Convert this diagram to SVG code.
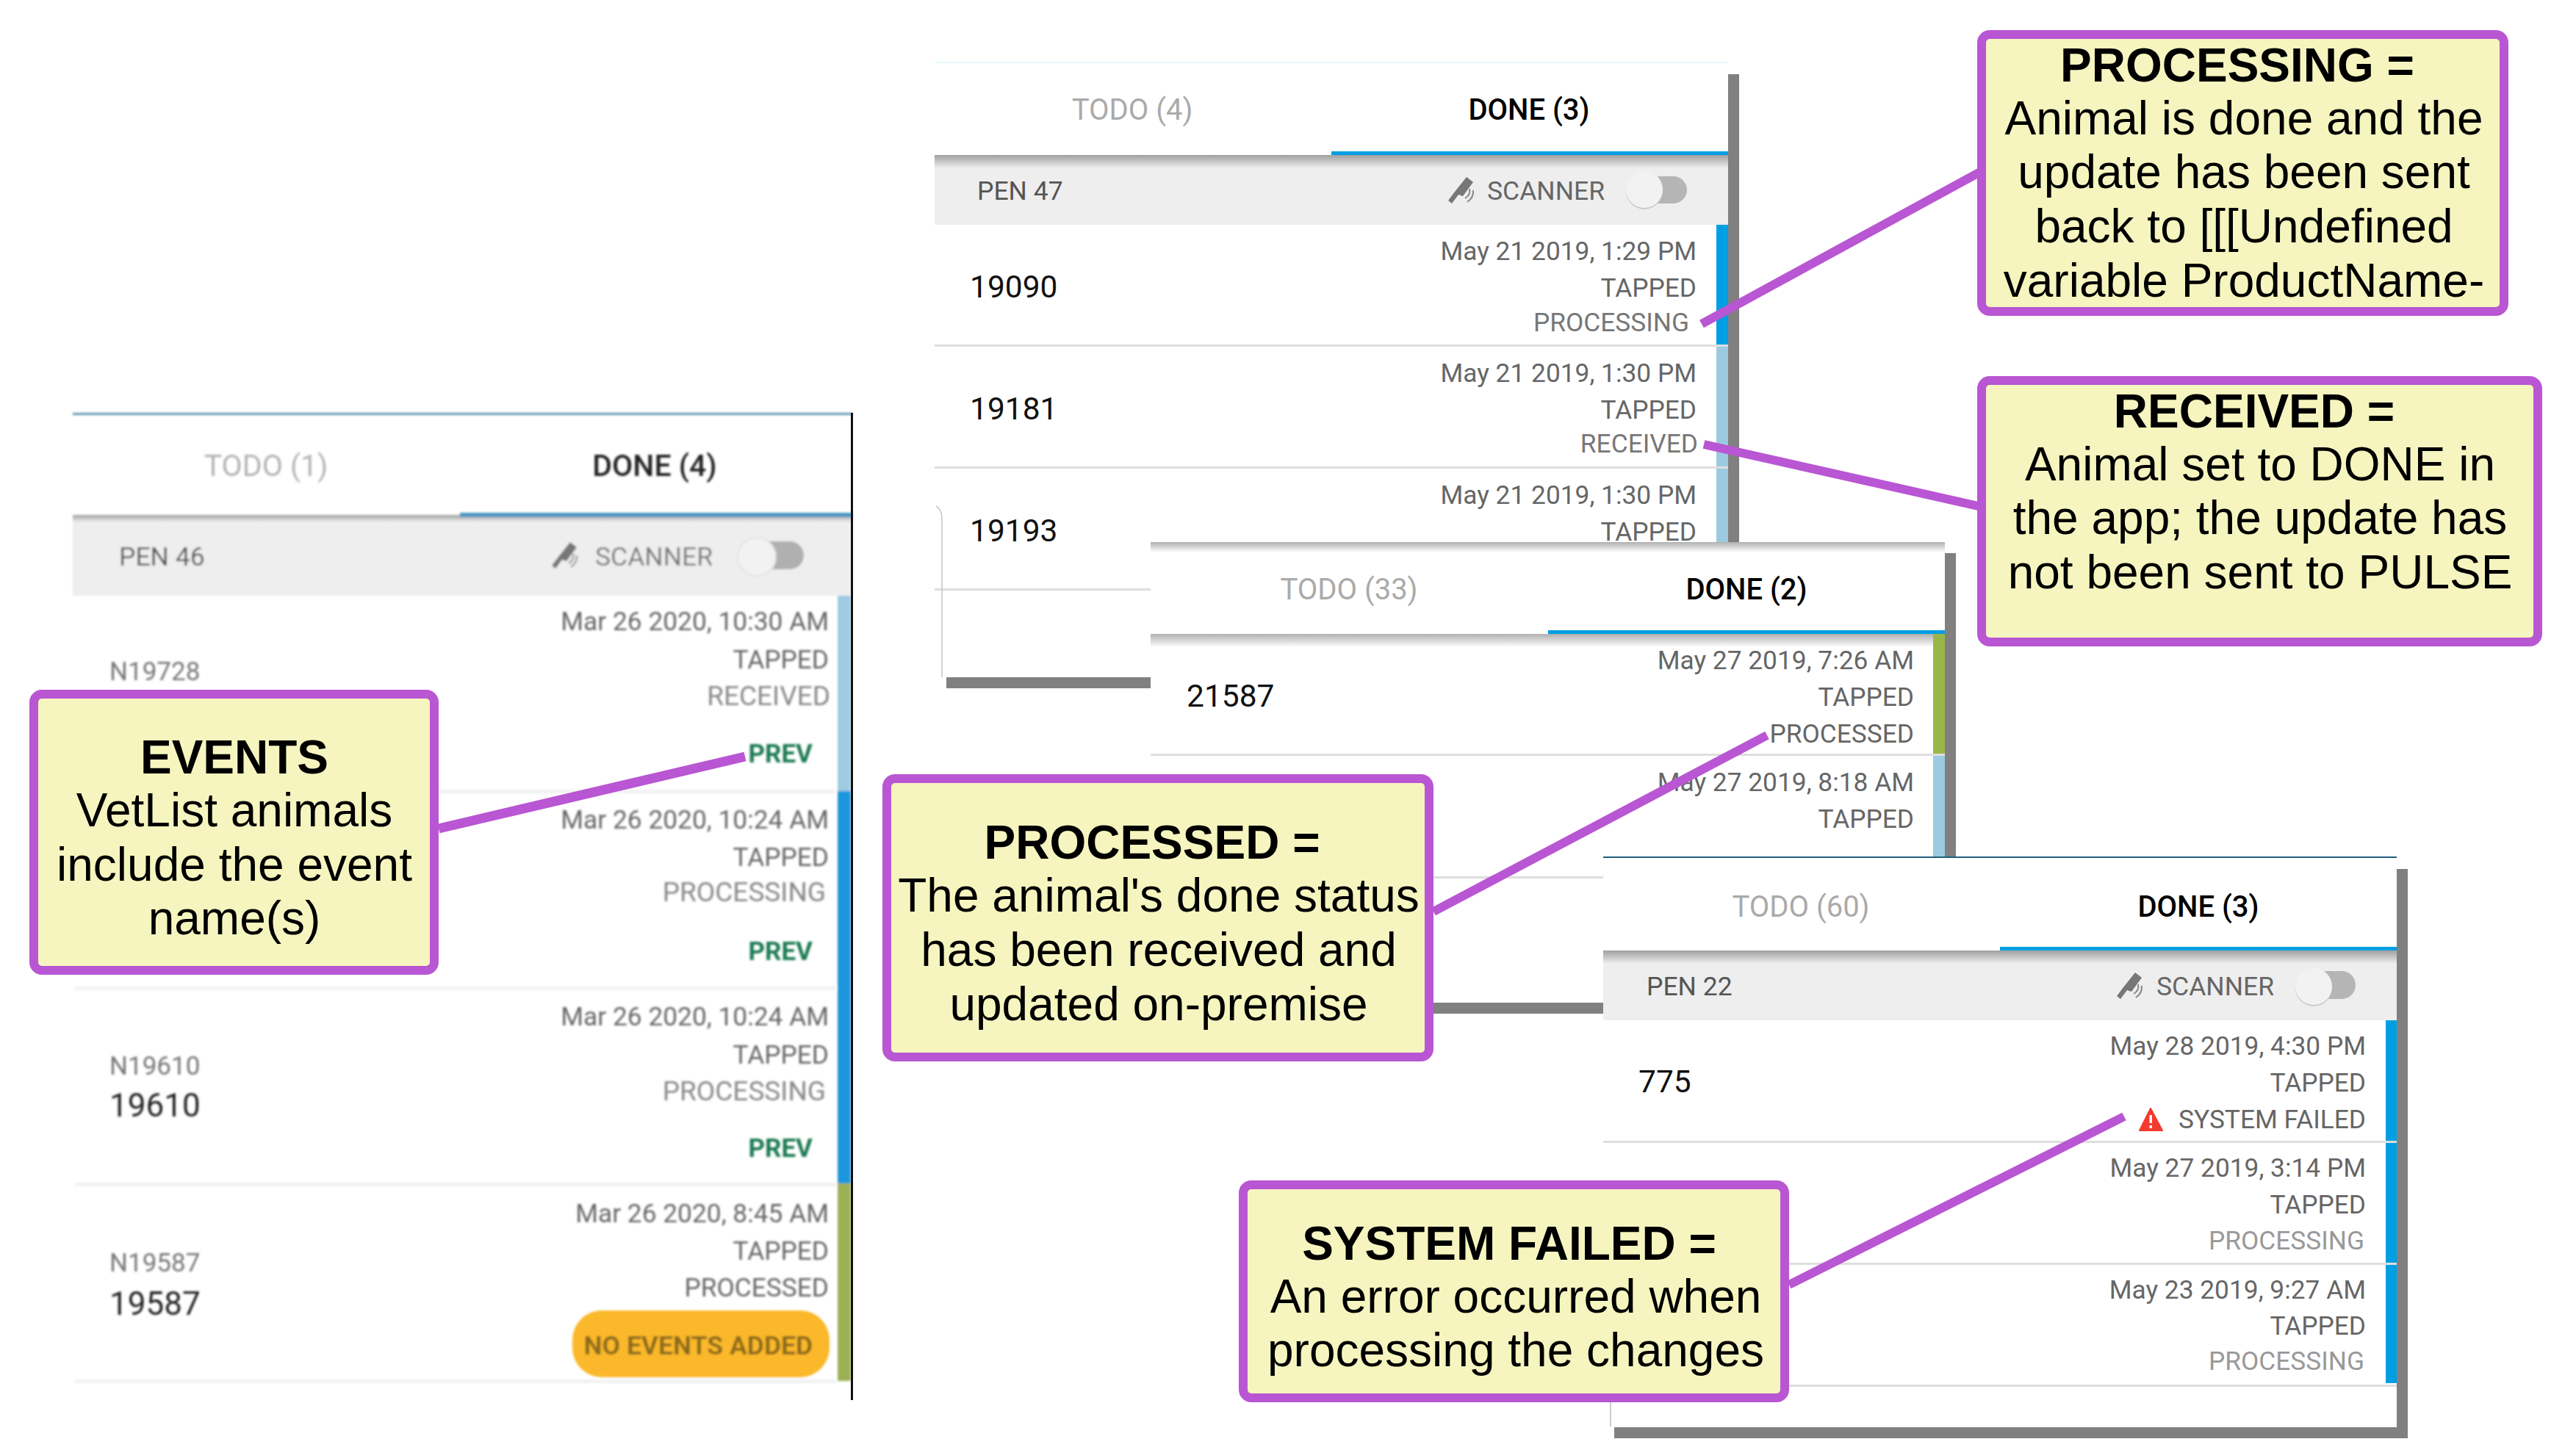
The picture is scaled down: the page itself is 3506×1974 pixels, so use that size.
<svg xmlns="http://www.w3.org/2000/svg" xmlns:xlink="http://www.w3.org/1999/xlink" width="3506" height="1974" viewBox="0 0 3506 1974">
<style>
text{font-family:Roboto,"Liberation Sans",sans-serif}
.tab{font-size:40px;fill:#aaaaaa;text-anchor:middle}
.tabon{font-size:40px;fill:#000;font-weight:500;text-anchor:middle}
.pen{font-size:35.5px;fill:#555}
.id{font-size:42.5px;fill:#111}
.r{font-size:35.3px;fill:#666;text-anchor:end}
.s{font-size:35.3px;fill:#777;text-anchor:end}
.s1{font-size:37px;fill:#888;text-anchor:end}
.n{font-size:35px;fill:#777}
.prev{font-size:35px;fill:#1f7a52;font-weight:700;text-anchor:end}
.sep{fill:#dedede}
.bar{fill:#808080}
.blue{fill:#009fe3}
.lblue{fill:#9ccae0}
.green{fill:#99b748}
.box{fill:#f6f5bf;stroke:#b956d3;stroke-width:12}
.ct{font-family:"Liberation Sans",Arial,sans-serif;font-size:64px;fill:#000;text-anchor:middle}
.ct.b{font-weight:700}
.conn{stroke:#b956d3;stroke-width:12;fill:none}
</style>
<defs>
<linearGradient id="shade" x1="0" y1="0" x2="0" y2="1"><stop offset="0" stop-color="#a0a0a0"/><stop offset="1" stop-color="#eeeeee"/></linearGradient>
<linearGradient id="shadeW" x1="0" y1="0" x2="0" y2="1"><stop offset="0" stop-color="#b0b0b0"/><stop offset="1" stop-color="#ffffff"/></linearGradient>
<filter id="soft" x="-2%" y="-2%" width="104%" height="104%"><feGaussianBlur stdDeviation="1.5"/></filter>
<g id="scan">
<path d="M26 1 L35 8 L21 27 L15 25 L6 37 L1 33 L10 21 L14 16 Z" fill="#777"/>
<path d="M30 17 Q32 25 24 30 M35 19 Q36 29 27 35" stroke="#888" stroke-width="2" fill="none"/>
</g>
</defs>
<rect width="3506" height="1974" fill="#ffffff"/>

<g id="panel-pen-46">
<g filter="url(#soft)">
<rect x="99" y="562" width="1061" height="3" fill="#6497b1"/>
<rect x="99" y="701" width="1061" height="110" fill="#eeeeee"/>
<rect x="99" y="701" width="1061" height="10" fill="url(#shade)"/>
<rect x="626" y="698" width="534" height="6" fill="#4b97c5"/>
<text class="tab" x="362" y="648" style="font-size:41px;fill:#b3b3b3">TODO (1)</text>
<text class="tabon" x="891" y="648" style="font-size:41px;fill:#222">DONE (4)</text>
<text class="pen" x="162" y="770">PEN 46</text>
<text class="pen" x="810" y="770" style="fill:#777">SCANNER</text>
<use xlink:href="#scan" transform="translate(750 737)"/>
<rect x="1030" y="737" width="64" height="38" rx="19" fill="#b0b0b0"/>
<circle cx="1030" cy="758" r="26" fill="#f2f2f2" stroke="#e2e2e2" stroke-width="2"/>
<rect x="1140" y="811" width="18" height="266" fill="#9ccbe2"/>
<rect x="1140" y="1077" width="18" height="534" fill="#1a96dc"/>
<rect x="1140" y="1611" width="18" height="269" fill="#9bb054"/>
<rect x="102" y="1075" width="1036" height="5" fill="#f2f2f2"/>
<rect x="102" y="1343" width="1036" height="5" fill="#f2f2f2"/>
<rect x="102" y="1610" width="1036" height="5" fill="#f2f2f2"/>
<rect x="102" y="1878" width="1036" height="5" fill="#f2f2f2"/>
<text class="r" x="1128" y="858">Mar 26 2020, 10:30 AM</text>
<text class="r" x="1128" y="910">TAPPED</text>
<text class="s1" x="1130" y="960">RECEIVED</text>
<text class="prev" x="1106" y="1038">PREV</text>
<text class="n" x="149" y="926">N19728</text>
<text class="r" x="1128" y="1128">Mar 26 2020, 10:24 AM</text>
<text class="r" x="1128" y="1179">TAPPED</text>
<text class="s1" x="1124" y="1227">PROCESSING</text>
<text class="prev" x="1106" y="1307">PREV</text>
<text class="r" x="1128" y="1396">Mar 26 2020, 10:24 AM</text>
<text class="r" x="1128" y="1448">TAPPED</text>
<text class="s1" x="1124" y="1498">PROCESSING</text>
<text class="prev" x="1106" y="1575">PREV</text>
<text class="n" x="149" y="1463">N19610</text>
<text class="id" x="149" y="1520" style="font-size:44px;fill:#222">19610</text>
<text class="r" x="1128" y="1664">Mar 26 2020, 8:45 AM</text>
<text class="r" x="1128" y="1715">TAPPED</text>
<text class="r" x="1128" y="1765">PROCESSED</text>
<text class="n" x="149" y="1731">N19587</text>
<text class="id" x="149" y="1790" style="font-size:44px;fill:#222">19587</text>
<rect x="779" y="1784" width="350" height="91" rx="40" fill="#fbb829"/>
<text x="1106" y="1844" style="font-size:35.5px;font-weight:700;fill:#8a6a1c;text-anchor:end">NO EVENTS ADDED</text>
</g>
<rect x="1158" y="562" width="3" height="1344" fill="#111111"/>
</g>

<g id="panel-pen-47">
<rect x="1272" y="84" width="1080" height="2" fill="#e8fbfb"/>
<rect x="1272" y="211" width="1080" height="95" fill="#eeeeee"/>
<rect x="1272" y="211" width="1080" height="18" fill="url(#shade)"/>
<rect x="1812" y="206" width="540" height="5" class="blue"/>
<rect x="2352" y="101" width="15" height="640" class="bar"/>
<text class="tab" x="1541" y="163">TODO (4)</text>
<text class="tabon" x="2081" y="163">DONE (3)</text>
<text class="pen" x="1330" y="272">PEN 47</text>
<text class="pen" x="2024" y="272" style="fill:#666">SCANNER</text>
<use xlink:href="#scan" transform="translate(1970 240)"/>
<rect x="2238" y="240" width="58" height="37" rx="18.5" fill="#b5b5b5"/>
<circle cx="2238" cy="260" r="25" fill="#cccccc"/>
<circle cx="2238" cy="258" r="25" fill="#f2f2f2"/>
<rect x="2336" y="306" width="16" height="163" class="blue"/>
<rect x="2336" y="472" width="16" height="163" class="lblue"/>
<rect x="2336" y="638" width="16" height="103" class="lblue"/>
<rect x="1272" y="469" width="1080" height="3" class="sep"/>
<rect x="1272" y="635" width="1080" height="3" class="sep"/>
<rect x="1272" y="801" width="294" height="3" class="sep"/>
<text class="id" x="1320" y="405">19090</text>
<text class="r" x="2309" y="354">May 21 2019, 1:29 PM</text>
<text class="r" x="2309" y="404">TAPPED</text>
<text class="s" x="2299" y="451">PROCESSING</text>
<text class="id" x="1320" y="571">19181</text>
<text class="r" x="2309" y="520">May 21 2019, 1:30 PM</text>
<text class="r" x="2309" y="570">TAPPED</text>
<text class="s" x="2311" y="616">RECEIVED</text>
<text class="id" x="1320" y="737">19193</text>
<text class="r" x="2309" y="686">May 21 2019, 1:30 PM</text>
<text class="r" x="2309" y="736">TAPPED</text>
<path d="M1274 689 Q1282 694 1282 706 L1282 922" fill="none" stroke="#c4c4c4" stroke-width="1.5"/>
<rect x="1288" y="922" width="280" height="15" class="bar"/>
</g>

<g id="panel-todo-33">
<rect x="1566" y="738" width="1081" height="627" fill="#ffffff"/>
<rect x="1566" y="738" width="1081" height="14" fill="url(#shadeW)"/>
<rect x="1566" y="863" width="1081" height="18" fill="url(#shadeW)"/>
<rect x="2107" y="858" width="540" height="5" class="blue"/>
<rect x="2647" y="753" width="15" height="414" class="bar"/>
<text class="tab" x="1836" y="816">TODO (33)</text>
<text class="tabon" x="2377" y="816">DONE (2)</text>
<rect x="2631" y="863" width="16" height="163" class="green"/>
<rect x="2631" y="1029" width="16" height="138" class="lblue"/>
<rect x="1566" y="1026" width="1081" height="3" class="sep"/>
<rect x="1566" y="1193" width="616" height="3" class="sep"/>
<text class="id" x="1615" y="962">21587</text>
<text class="r" x="2605" y="911">May 27 2019, 7:26 AM</text>
<text class="r" x="2605" y="961">TAPPED</text>
<text class="r" x="2605" y="1011">PROCESSED</text>
<text class="r" x="2605" y="1077">May 27 2019, 8:18 AM</text>
<text class="r" x="2605" y="1127">TAPPED</text>
<rect x="1572" y="1365" width="612" height="15" class="bar"/>
</g>

<g id="panel-pen-22">
<rect x="2182" y="1167" width="1080" height="776" fill="#ffffff"/>
<rect x="2182" y="1166" width="1080" height="2" fill="#1f5f7f"/>
<rect x="2182" y="1294" width="1080" height="95" fill="#eeeeee"/>
<rect x="2182" y="1294" width="1080" height="18" fill="url(#shade)"/>
<rect x="2722" y="1289" width="540" height="5" class="blue"/>
<rect x="3262" y="1183" width="15" height="775" class="bar"/>
<rect x="2197" y="1943" width="1080" height="15" class="bar"/>
<path d="M2192 1880 L2192 1942" stroke="#bbbbbb" stroke-width="1.5" fill="none"/>
<text class="tab" x="2451" y="1248">TODO (60)</text>
<text class="tabon" x="2992" y="1248">DONE (3)</text>
<text class="pen" x="2241" y="1355">PEN 22</text>
<text class="pen" x="2935" y="1355" style="fill:#666">SCANNER</text>
<use xlink:href="#scan" transform="translate(2880 1323)"/>
<rect x="3149" y="1322" width="57" height="38" rx="19" fill="#b5b5b5"/>
<circle cx="3149" cy="1345" r="25" fill="#cccccc"/>
<circle cx="3149" cy="1343" r="25" fill="#f2f2f2"/>
<rect x="3247" y="1389" width="15" height="164" class="blue"/>
<rect x="3247" y="1556" width="15" height="163" class="blue"/>
<rect x="3247" y="1722" width="15" height="161" class="blue"/>
<rect x="2182" y="1553" width="1080" height="3" class="sep"/>
<rect x="2182" y="1719" width="1080" height="3" class="sep"/>
<rect x="2182" y="1885" width="1080" height="3" class="sep"/>
<text class="id" x="2230" y="1487">775</text>
<text class="r" x="3220" y="1436">May 28 2019, 4:30 PM</text>
<text class="r" x="3220" y="1486">TAPPED</text>
<path d="M2927 1509 L2943 1539 L2912 1539 Z" fill="#f43a2e" stroke="#f43a2e" stroke-width="2" stroke-linejoin="round"/>
<rect x="2925.5" y="1518" width="3.5" height="11" fill="#ffffff"/>
<rect x="2925.5" y="1532" width="3.5" height="4" fill="#ffffff"/>
<text class="r" x="3220" y="1536">SYSTEM FAILED</text>
<text class="r" x="3220" y="1602">May 27 2019, 3:14 PM</text>
<text class="r" x="3220" y="1652">TAPPED</text>
<text class="s" x="3218" y="1701" style="fill:#999">PROCESSING</text>
<text class="r" x="3220" y="1768">May 23 2019, 9:27 AM</text>
<text class="r" x="3220" y="1817">TAPPED</text>
<text class="s" x="3218" y="1865" style="fill:#999">PROCESSING</text>
</g>

<g id="connectors">
<line class="conn" x1="1014" y1="1030" x2="597" y2="1128" style="stroke-width:13"/>
<line class="conn" x1="2316" y1="441" x2="2697" y2="233"/>
<line class="conn" x1="2319" y1="605" x2="2697" y2="690"/>
<line class="conn" x1="2405" y1="1001" x2="1951" y2="1241"/>
<line class="conn" x1="2891" y1="1520" x2="2435" y2="1749"/>
</g>

<g id="callout-events">
<rect class="box" x="46" y="945" width="545" height="376" rx="11"/>
<text class="ct b" x="319" y="1053">EVENTS</text>
<text class="ct" x="319" y="1125">VetList animals</text>
<text class="ct" x="319" y="1199">include the event</text>
<text class="ct" x="319" y="1272">name(s)</text>
</g>
<g id="callout-processing">
<rect class="box" x="2697" y="47" width="711" height="377" rx="11"/>
<text class="ct b" x="3045" y="111">PROCESSING =</text>
<text class="ct" x="3054" y="183">Animal is done and the</text>
<text class="ct" x="3054" y="256">update has been sent</text>
<text class="ct" x="3054" y="330">back to [[[Undefined</text>
<text class="ct" x="3054" y="404">variable ProductName-</text>
</g>
<g id="callout-received">
<rect class="box" x="2697" y="518" width="757" height="356" rx="11"/>
<text class="ct b" x="3068" y="582">RECEIVED =</text>
<text class="ct" x="3076" y="654">Animal set to DONE in</text>
<text class="ct" x="3076" y="727">the app; the update has</text>
<text class="ct" x="3076" y="801">not been sent to PULSE</text>
</g>
<g id="callout-processed">
<rect class="box" x="1207" y="1060" width="738" height="379" rx="11"/>
<text class="ct b" x="1568" y="1169">PROCESSED =</text>
<text class="ct" x="1577" y="1241">The animal's done status</text>
<text class="ct" x="1577" y="1315">has been received and</text>
<text class="ct" x="1577" y="1389">updated on-premise</text>
</g>
<g id="callout-system-failed">
<rect class="box" x="1692" y="1613" width="737" height="290" rx="11"/>
<text class="ct b" x="2054" y="1715">SYSTEM FAILED =</text>
<text class="ct" x="2063" y="1787">An error occurred when</text>
<text class="ct" x="2063" y="1860">processing the changes</text>
</g>
</svg>
